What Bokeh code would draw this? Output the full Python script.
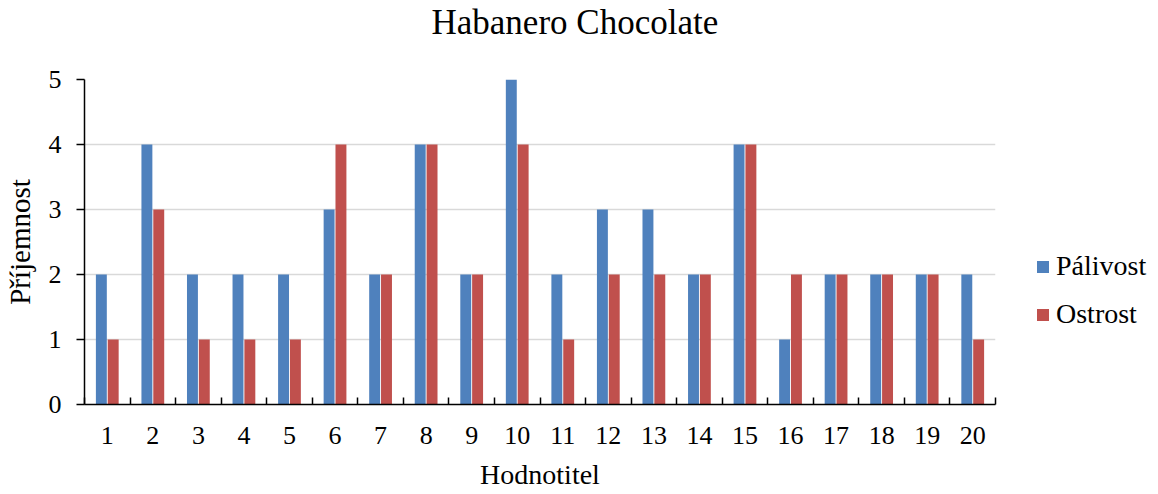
from bokeh.plotting import figure
from bokeh.models import FixedTicker, Legend, LegendItem, ColumnDataSource, Range1d, Title
from bokeh.transform import dodge
from bokeh.embed import file_html
from bokeh.resources import INLINE

hodnotitel = list(range(1, 21))
palivost = [2, 4, 2, 2, 2, 3, 2, 4, 2, 5, 2, 3, 3, 2, 4, 1, 2, 2, 2, 2]
ostrost = [1, 3, 1, 1, 1, 4, 2, 4, 2, 4, 1, 2, 2, 2, 4, 2, 2, 2, 2, 1]
y_ticks = [0, 1, 2, 3, 4, 5]
title_text = "Habanero Chocolate"

FONT = "Liberation Serif"

src = ColumnDataSource(dict(x=hodnotitel, p=palivost, o=ostrost))

p = figure(output_backend="svg", toolbar_location=None,
           x_range=Range1d(0.5, len(hodnotitel) + 0.5), y_range=Range1d(0, max(y_ticks)),
           frame_width=911, frame_height=325,
           min_border_left=77, min_border_right=154, min_border_top=0, min_border_bottom=82)

# spacer between title and frame (added first -> closest to frame)
p.add_layout(Title(text=" ", text_font_size="1px", standoff=35), "above")
p.add_layout(Title(text=title_text, text_font=FONT, text_font_size="35px",
                   text_font_style="normal", text_color="black",
                   align="left", offset=347, standoff=0), "above")

b1 = p.vbar(x=dodge("x", -0.13, range=p.x_range), top="p", width=0.24, source=src,
            fill_color="#4F81BD", line_color=None)
b2 = p.vbar(x=dodge("x", 0.13, range=p.x_range), top="o", width=0.24, source=src,
            fill_color="#C0504D", line_color=None)

p.outline_line_color = None
p.xgrid.visible = False
p.ygrid.grid_line_color = "#d9d9d9"
p.ygrid.grid_line_width = 1.5
p.ygrid.ticker = FixedTicker(ticks=y_ticks)

xa = p.xaxis[0]
xa.ticker = FixedTicker(ticks=hodnotitel, minor_ticks=[h - 0.5 for h in hodnotitel] + [hodnotitel[-1] + 0.5])
xa.major_tick_in = 0
xa.major_tick_out = 0
xa.minor_tick_in = 7
xa.minor_tick_out = 0
xa.minor_tick_line_color = "black"
xa.minor_tick_line_width = 1.5
xa.axis_line_color = "black"
xa.axis_line_width = 1.5
xa.major_label_text_font = FONT
xa.major_label_text_font_size = "26px"
xa.major_label_text_color = "black"
xa.major_label_standoff = 22
xa.axis_label = "Hodnotitel"
xa.axis_label_text_font = FONT
xa.axis_label_text_font_size = "28px"
xa.axis_label_text_font_style = "normal"
xa.axis_label_text_color = "black"
xa.axis_label_standoff = 12

ya = p.yaxis[0]
ya.ticker = FixedTicker(ticks=y_ticks)
ya.major_tick_in = 0
ya.major_tick_out = 8
ya.minor_tick_in = 0
ya.minor_tick_out = 0
ya.major_tick_line_width = 1.5
ya.axis_line_color = "black"
ya.axis_line_width = 1.5
ya.major_label_text_font = FONT
ya.major_label_text_font_size = "26px"
ya.major_label_text_color = "black"
ya.major_label_standoff = 15
ya.axis_label = "Příjemnost"
ya.axis_label_text_font = FONT
ya.axis_label_text_font_size = "29px"
ya.axis_label_text_font_style = "normal"
ya.axis_label_text_color = "black"
ya.axis_label_standoff = 10

legend = Legend(items=[LegendItem(label="Pálivost", renderers=[b1]),
                       LegendItem(label="Ostrost", renderers=[b2])],
                location=(40, 74))
legend.label_text_font = FONT
legend.label_text_font_size = "28px"
legend.label_text_color = "black"
legend.glyph_width = 15
legend.glyph_height = 15
legend.label_height = 28
legend.spacing = 16
legend.padding = 0
legend.margin = 0
legend.label_standoff = 6
legend.border_line_color = None
legend.background_fill_alpha = 0
p.add_layout(legend, "right")

open("out.html", "w").write(file_html(p, INLINE))
